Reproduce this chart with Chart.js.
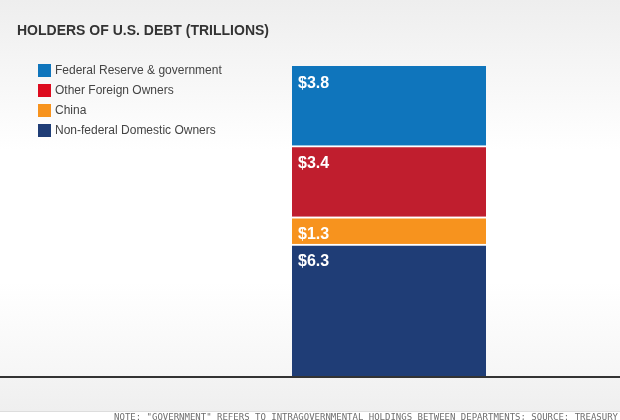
<!DOCTYPE html>
<html>
<head>
<meta charset="utf-8">
<script src="https://cdn.jsdelivr.net/npm/chart.js@4/dist/chart.umd.min.js"></script>
<style>
  html, body { margin: 0; padding: 0; background: #fff; }
  #wrap { width: 620px; height: 420px; position: relative; }
</style>
</head>
<body>
<div id="wrap"><canvas id="debt"></canvas></div>
<script>
var categories = ['Holders'];
// stacked bottom to top
var seriesNames = ['Non-federal Domestic Owners', 'China', 'Other Foreign Owners', 'Federal Reserve & government'];
var domestic = [6.3];
var china = [1.3];
var foreign = [3.4];
var fedGov = [3.8];
var seriesColors = ['#1f3d76', '#f7931e', '#c01e2e', '#0f75bc'];
var legendColors = ['#1f3d76', '#f7931e', '#dd0b1e', '#0f75bc'];

var title = 'HOLDERS OF U.S. DEBT (TRILLIONS)';
var note = 'NOTE: "GOVERNMENT" REFERS TO INTRAGOVERNMENTAL HOLDINGS BETWEEN DEPARTMENTS; SOURCE: TREASURY';

var ctx = document.getElementById('debt').getContext('2d');

// background, title, legend and footer
var decorPlugin = {
  id: 'decor',
  beforeDraw: function(chart) {
    var c = chart.ctx;
    var w = chart.width;
    var axisY = chart.chartArea.bottom;
    c.save();
    var g = c.createLinearGradient(0, 0, 0, axisY);
    g.addColorStop(0, '#eeeeee');
    g.addColorStop(0.4, '#ffffff');
    g.addColorStop(0.75, '#ffffff');
    g.addColorStop(1, '#f6f6f6');
    c.fillStyle = g;
    c.fillRect(0, 0, w, axisY);
    var g2 = c.createLinearGradient(0, axisY, 0, 411);
    g2.addColorStop(0, '#f3f3f3');
    g2.addColorStop(1, '#efefef');
    c.fillStyle = g2;
    c.fillRect(0, axisY, w, 411 - axisY);
    c.fillStyle = '#dddddd';
    c.fillRect(0, 411, w, 1);
    c.fillStyle = '#ffffff';
    c.fillRect(0, 412, w, 8);

    c.fillStyle = '#333333';
    c.font = 'bold 14px "Liberation Sans", Arial, sans-serif';
    c.textBaseline = 'alphabetic';
    c.fillText(title, 17, 35);

    // legend, top of stack first
    c.font = '12px "Liberation Sans", Arial, sans-serif';
    c.textBaseline = 'middle';
    for (var i = 0; i < seriesNames.length; i++) {
      var k = seriesNames.length - 1 - i;
      var y = 64 + i * 20;
      c.fillStyle = legendColors[k];
      c.fillRect(38, y, 13, 13);
      c.fillStyle = '#444444';
      c.fillText(seriesNames[k], 55, y + 7);
    }

    c.font = '9px "DejaVu Sans Mono", monospace';
    c.fillStyle = '#6f6f6f';
    c.textAlign = 'right';
    c.textBaseline = 'alphabetic';
    c.fillText(note, 618, 420);
    c.restore();
  },
  afterDatasetsDraw: function(chart) {
    var c = chart.ctx;
    c.save();
    // axis line
    c.fillStyle = '#333333';
    c.fillRect(0, chart.chartArea.bottom, chart.width, 2);
    // value labels
    c.font = 'bold 16px "Liberation Sans", Arial, sans-serif';
    c.fillStyle = '#ffffff';
    c.textBaseline = 'alphabetic';
    chart.data.datasets.forEach(function(ds, di) {
      var meta = chart.getDatasetMeta(di);
      meta.data.forEach(function(bar, j) {
        var left = bar.x - bar.width / 2;
        var top = Math.min(bar.y, bar.base);
        c.fillText('$' + ds.data[j].toFixed(1), left + 6, top + 22);
      });
    });
    c.restore();
  }
};

var seriesData = [domestic, china, foreign, fedGov];

var chart = new Chart(ctx, {
  type: 'bar',
  data: {
    labels: categories,
    datasets: seriesNames.map(function(name, i) {
      var topGap = i < seriesNames.length - 1 ? 2 : 0;
      return {
        label: name,
        data: seriesData[i],
        backgroundColor: seriesColors[i],
        borderColor: '#ffffff',
        borderWidth: { top: topGap, left: 0, right: 0, bottom: 0 },
        borderSkipped: false,
        barPercentage: 1,
        categoryPercentage: 1
      };
    })
  },
  options: {
    responsive: true,
    maintainAspectRatio: false,
    animation: false,
    layout: { padding: { left: 292, right: 134, top: 66, bottom: 44 } },
    plugins: {
      legend: { display: false },
      tooltip: { enabled: false }
    },
    scales: {
      x: { stacked: true, display: false },
      y: { stacked: true, display: false, min: 0, max: 14.8 }
    }
  },
  plugins: [decorPlugin]
});
</script>
</body>
</html>
